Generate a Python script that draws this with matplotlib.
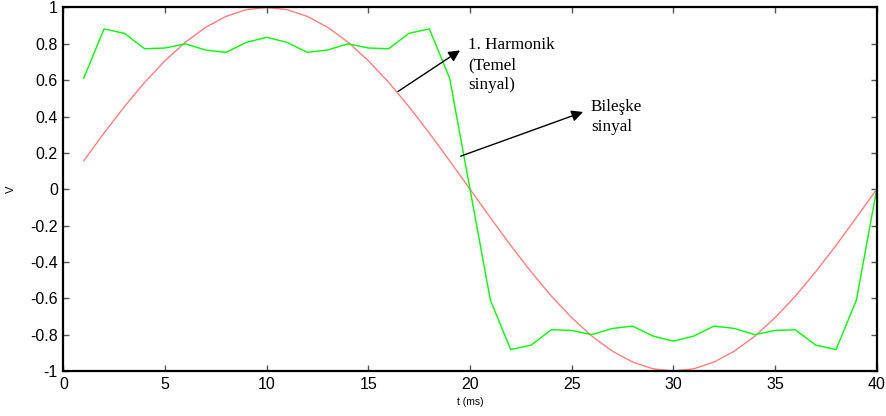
import matplotlib.pyplot as plt
import numpy as np

# time axis in ms
t = list(range(1, 41))

# fundamental (1st harmonic)
harmonik = [0.156, 0.309, 0.454, 0.588, 0.707, 0.809, 0.891, 0.951, 0.988, 1.0,
            0.988, 0.951, 0.891, 0.809, 0.707, 0.588, 0.454, 0.309, 0.156, 0.0,
            -0.156, -0.309, -0.454, -0.588, -0.707, -0.809, -0.891, -0.951, -0.988, -1.0,
            -0.988, -0.951, -0.891, -0.809, -0.707, -0.588, -0.454, -0.309, -0.156, 0.0]

# resulting (composite) signal
bileske = [0.61, 0.882, 0.858, 0.773, 0.777, 0.80, 0.766, 0.753, 0.808, 0.836,
           0.808, 0.753, 0.766, 0.80, 0.777, 0.773, 0.858, 0.882, 0.61, 0.0,
           -0.61, -0.882, -0.858, -0.773, -0.777, -0.80, -0.766, -0.753, -0.808, -0.836,
           -0.808, -0.753, -0.766, -0.80, -0.777, -0.773, -0.858, -0.882, -0.61, 0.0]

xticks = [0, 5, 10, 15, 20, 25, 30, 35, 40]
yticks = [-1, -0.8, -0.6, -0.4, -0.2, 0, 0.2, 0.4, 0.6, 0.8, 1]
yticklabels = ['-1', '-0.8', '-0.6', '-0.4', '-0.2', '0', '0.2', '0.4', '0.6', '0.8', '1']

plt.rcParams['font.family'] = ['Liberation Sans', 'DejaVu Sans']

fig = plt.figure(figsize=(8.87, 4.16), dpi=100)
ax = fig.add_axes([0.0714, 0.1082, 0.917, 0.8738])

ax.plot(t, harmonik, color='#ff8080', lw=1.0)
ax.plot(t, bileske, color='#00ff00', lw=1.0)

ax.set_xlim(0, 40)
ax.set_ylim(-1, 1)
ax.set_xticks(xticks)
ax.set_xticklabels([str(x) for x in xticks])
ax.set_yticks(yticks)
ax.set_yticklabels(yticklabels)
ax.tick_params(direction='in', length=4, width=1, color='#555555',
               top=True, right=True, labelsize=11.5, pad=4)
for s in ax.spines.values():
    s.set_linewidth(1.6)

ax.set_xlabel('t (ms)', fontsize=7.5, labelpad=4)
ax.set_ylabel('V', fontsize=8)
ax.yaxis.set_label_coords(-0.058, 0.5)

serif = ['Liberation Serif', 'DejaVu Serif']
arrow = dict(arrowstyle='-|>', color='black', lw=1.0,
             mutation_scale=17, shrinkA=0, shrinkB=0)
ax.text(19.9, 0.835, '1. Harmonik\n(Temel\nsinyal)', ha='left', va='top',
        fontsize=12.3, family=serif, linespacing=1.32)
ax.annotate('', xy=(19.51, 0.764), xytext=(16.46, 0.538), arrowprops=arrow)
ax.text(25.94, 0.495, 'Bileşke\nsinyal', ha='left', va='top',
        fontsize=12.3, family=serif, linespacing=1.32)
ax.annotate('', xy=(25.56, 0.425), xytext=(19.54, 0.182), arrowprops=arrow)

fig.savefig('out.png', dpi=100)
